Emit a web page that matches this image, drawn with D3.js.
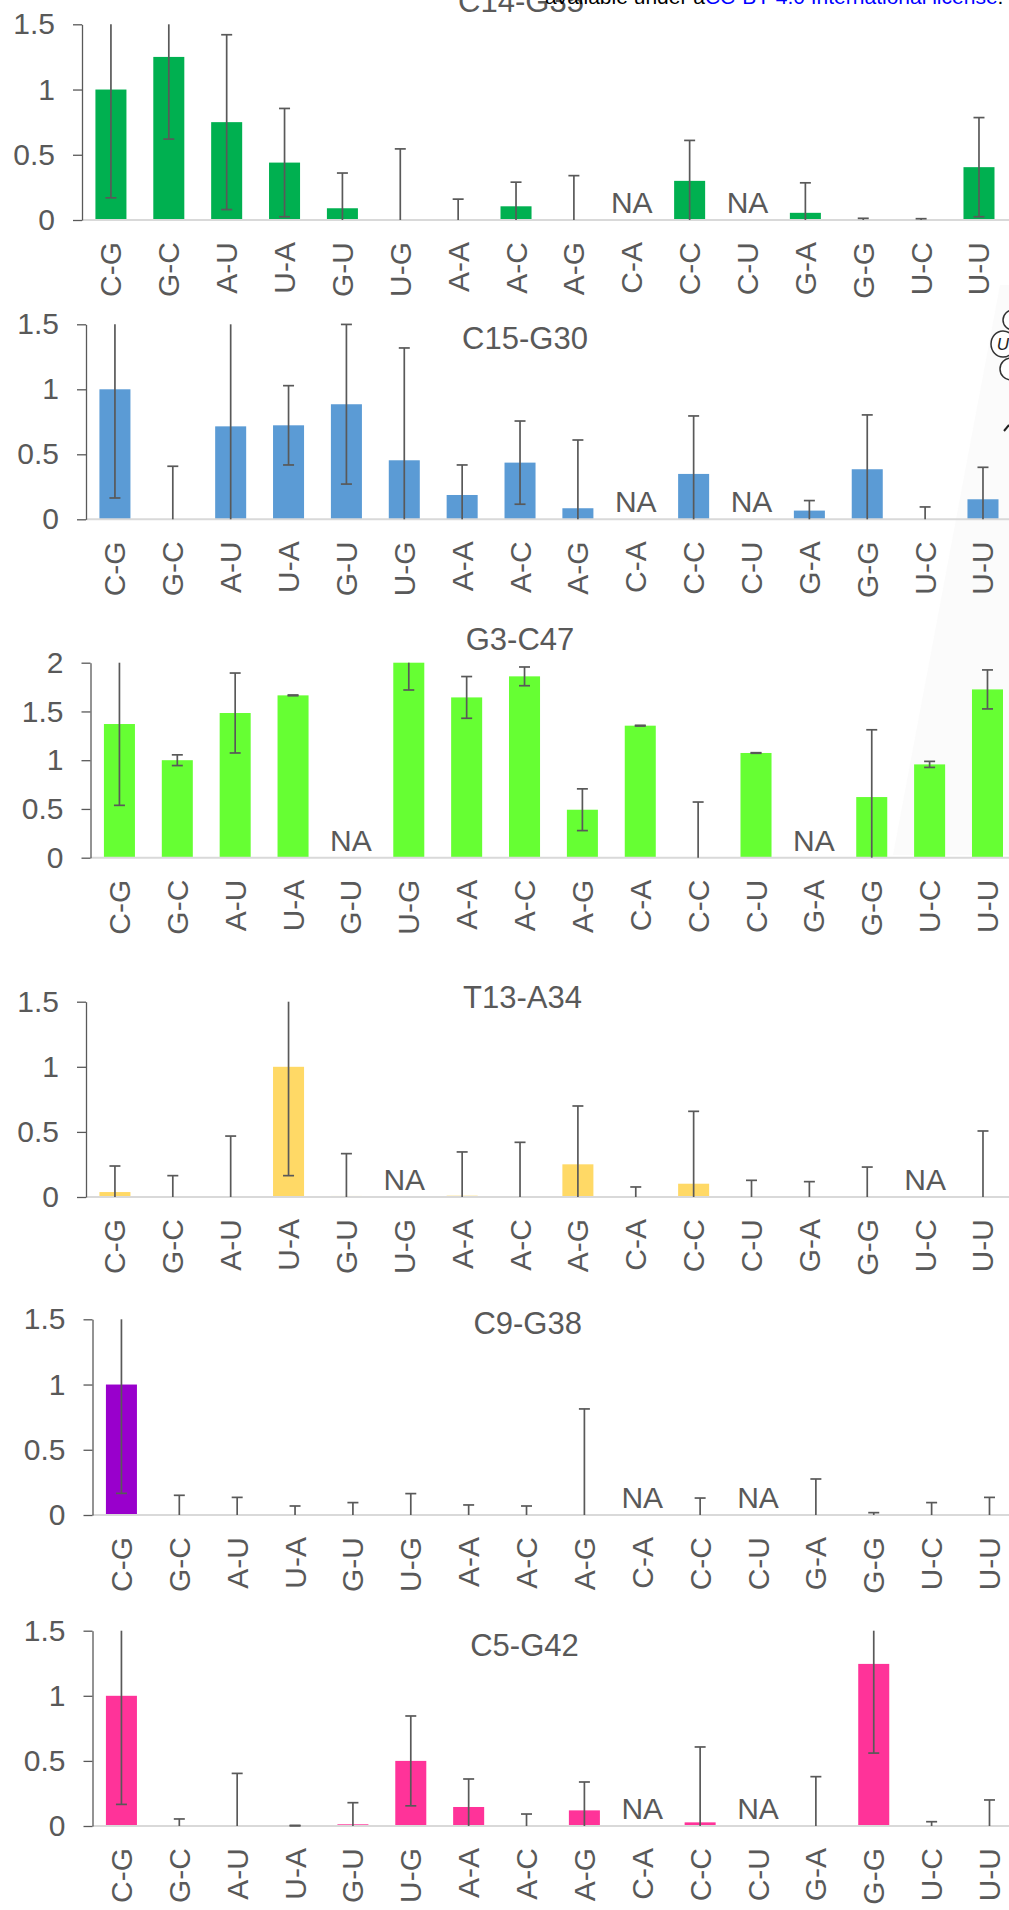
<!DOCTYPE html>
<html><head><meta charset="utf-8">
<script src="https://cdn.jsdelivr.net/npm/d3@7"></script>
<style>
body{margin:0;background:#fff}
svg{display:block}
text{font-family:"Liberation Sans",Arial,Helvetica,sans-serif}
</style>
</head><body>
<svg id="chart" width="1009" height="1910"></svg>
<script>
// ---------------- data ----------------
const categories = ["C-G","G-C","A-U","U-A","G-U","U-G","A-A","A-C","A-G","C-A","C-C","C-U","G-A","G-G","U-C","U-U"];
const titles = ["C14-G35","C15-G30","G3-C47","T13-A34","C9-G38","C5-G42"];
const colors = ["#00B050","#5B9BD5","#66FF33","#FFD966","#9900CC","#FF3399"];
const yMaxes = [1.5, 1.5, 2, 1.5, 1.5, 1.5];
const ticks15 = [0, 0.5, 1, 1.5];
const ticks2 = [0, 0.5, 1, 1.5, 2];

// null = NA
const values1 = [1.0, 1.25, 0.75, 0.44, 0.09, 0.005, 0, 0.105, 0, null, 0.30, null, 0.055, 0, 0, 0.405];
const errors1 = [0.83, 0.63, 0.67, 0.415, 0.27, 0.54, 0.16, 0.185, 0.34, null, 0.31, null, 0.23, 0.013, 0.01, 0.38];

const values2 = [1.0, 0, 0.715, 0.723, 0.885, 0.454, 0.187, 0.436, 0.085, null, 0.349, null, 0.067, 0.385, 0, 0.154];
const errors2 = [0.836, 0.408, 0.85, 0.305, 0.614, 0.864, 0.231, 0.32, 0.525, null, 0.446, null, 0.077, 0.418, 0.095, 0.246];

const values3 = [1.371, 1.0, 1.484, 1.665, null, 2.0, 1.644, 1.86, 0.492, 1.354, 0, 1.074, null, 0.622, 0.957, 1.726];
const errors3 = [0.834, 0.055, 0.41, 0.004, null, 0.28, 0.214, 0.096, 0.214, 0.004, 0.571, 0.003, null, 0.69, 0.031, 0.2];

const values4 = [0.038, 0, 0, 1.0, 0.008, null, 0.01, 0, 0.251, 0, 0.102, 0, 0, 0, null, 0];
const errors4 = [0.2, 0.164, 0.468, 0.836, 0.325, null, 0.336, 0.42, 0.448, 0.077, 0.556, 0.128, 0.118, 0.23, null, 0.507];

const values5 = [1.0, 0, 0, 0, 0, 0, 0, 0, 0, null, 0, null, 0, 0, 0, 0.005];
const errors5 = [0.834, 0.151, 0.135, 0.069, 0.095, 0.164, 0.077, 0.069, 0.813, null, 0.13, null, 0.276, 0.018, 0.095, 0.13];

const values6 = [1.0, 0, 0, 0.003, 0.013, 0.5, 0.146, 0, 0.12, null, 0.028, null, 0, 1.245, 0, 0];
const errors6 = [0.834, 0.054, 0.404, 0.002, 0.166, 0.345, 0.215, 0.092, 0.218, null, 0.579, null, 0.379, 0.685, 0.033, 0.2];

const allValues = [values1, values2, values3, values4, values5, values6];
const allErrors = [errors1, errors2, errors3, errors4, errors5, errors6];

// ---------------- layout ----------------
const layout = [
  {x0: 82,   top: 24.3,   zero: 220,    titleX: 521,   titleY: 12},
  {x0: 86,   top: 324.3,  zero: 519.3,  titleX: 525,   titleY: 349},
  {x0: 90.5, top: 662.7,  zero: 857.7,  titleX: 520,   titleY: 650},
  {x0: 86,   top: 1001.7, zero: 1197,   titleX: 522.5, titleY: 1008},
  {x0: 92.5, top: 1319.3, zero: 1515,   titleX: 527.7, titleY: 1334},
  {x0: 92.5, top: 1630.7, zero: 1826,   titleX: 524.5, titleY: 1656}
];
const STEP = 57.87;
const TEXT = "#595959";
const FS = 30;

const svg = d3.select("#chart");

// faint background shading from the source figure
svg.append("path")
  .attr("d", "M1009,285 L1000,285 L893,855 L1009,855 Z")
  .attr("fill", "#FBFBFB");

// partial circled-letter glyphs at the right edge
const glyphs = svg.append("g").attr("stroke", "#333").attr("fill", "#fff").attr("stroke-width", 1.5);
glyphs.append("ellipse").attr("cx", 1013).attr("cy", 320).attr("rx", 10).attr("ry", 10);
glyphs.append("ellipse").attr("cx", 1011).attr("cy", 369).attr("rx", 11).attr("ry", 11);
glyphs.append("ellipse").attr("cx", 1003).attr("cy", 344).attr("rx", 12).attr("ry", 13);
svg.append("text").attr("x", 1003).attr("y", 350).attr("text-anchor", "middle")
  .attr("font-size", 17).attr("font-style", "italic").attr("fill", "#222").text("U");
svg.append("path").attr("d", "M1004,431 L1009,425").attr("stroke", "#222").attr("stroke-width", 2);

layout.forEach((L, p) => {
  const vals = allValues[p], errs = allErrors[p];
  const yMax = yMaxes[p];
  const g = svg.append("g");

  const x = d3.scaleBand()
    .domain(categories)
    .range([L.x0, L.x0 + STEP * categories.length])
    .paddingInner(0.464)
    .paddingOuter(0.232);
  const y = d3.scaleLinear().domain([0, yMax]).range([L.zero, L.top]);

  // title
  g.append("text")
    .attr("x", L.titleX).attr("y", L.titleY)
    .attr("text-anchor", "middle")
    .attr("font-size", 31).attr("fill", TEXT)
    .text(titles[p]);

  // bars
  const data = categories.map((c, i) => ({c, v: vals[i], e: errs[i]}));
  g.append("g").selectAll("rect")
    .data(data.filter(d => d.v !== null && d.v > 0))
    .join("rect")
    .attr("x", d => x(d.c))
    .attr("width", x.bandwidth())
    .attr("y", d => y(Math.min(d.v, yMax)))
    .attr("height", d => y(0) - y(Math.min(d.v, yMax)))
    .attr("fill", colors[p]);

  // x axis (category labels)
  const xAxis = g.append("g")
    .attr("transform", `translate(0,${L.zero})`)
    .call(d3.axisBottom(x).tickSize(0).tickSizeOuter(0));
  xAxis.select(".domain")
    .attr("stroke", "#D9D9D9").attr("stroke-width", 2)
    .attr("d", `M${L.x0},0H1009`);
  xAxis.selectAll(".tick text")
    .attr("transform", "rotate(-90)")
    .attr("text-anchor", "end")
    .attr("x", -22).attr("y", 0).attr("dy", "0.35em")
    .attr("font-size", FS).attr("font-family", null)
    .attr("fill", TEXT);

  // y axis
  const yAxis = g.append("g")
    .attr("transform", `translate(${L.x0},0)`)
    .call(d3.axisLeft(y)
      .tickValues(yMax === 2 ? ticks2 : ticks15)
      .tickSize(9).tickSizeOuter(0).tickPadding(18)
      .tickFormat(d3.format("")));
  yAxis.select(".domain").attr("stroke", TEXT).attr("stroke-width", 1.3);
  yAxis.selectAll(".tick line").attr("stroke", TEXT).attr("stroke-width", 1.3);
  yAxis.selectAll(".tick text")
    .attr("font-size", FS).attr("font-family", null).attr("fill", TEXT);

  // error bars
  const eb = g.append("g").attr("stroke", TEXT).attr("stroke-width", 1.7).attr("fill", "none");
  const capW = 5.5;
  data.filter(d => d.v !== null && d.e !== null).forEach(d => {
    const cx = x(d.c) + x.bandwidth() / 2;
    const hi = d.v + d.e, lo = d.v - d.e;
    const yHi = y(Math.min(hi, yMax)), yLo = y(Math.max(lo, 0));
    eb.append("line").attr("x1", cx).attr("x2", cx).attr("y1", yLo).attr("y2", yHi);
    if (hi <= yMax) eb.append("line").attr("x1", cx - capW).attr("x2", cx + capW).attr("y1", yHi).attr("y2", yHi);
    if (lo > 0) eb.append("line").attr("x1", cx - capW).attr("x2", cx + capW).attr("y1", yLo).attr("y2", yLo);
  });

  // NA labels
  g.append("g").selectAll("text")
    .data(data.filter(d => d.v === null))
    .join("text")
    .attr("x", d => x(d.c) + x.bandwidth() / 2)
    .attr("y", L.zero - 7)
    .attr("text-anchor", "middle")
    .attr("font-size", FS).attr("fill", TEXT)
    .text("NA");
});

// header text from the source page (cut off at the top)
const hdr = svg.append("text").attr("x", 545).attr("y", 4).attr("font-size", 21).attr("fill", "#000");
hdr.append("tspan").text("available under a");
hdr.append("tspan").attr("fill", "#0000FF").text("CC-BY 4.0 International license");
hdr.append("tspan").attr("fill", "#000").text(".");
</script>
</body></html>
